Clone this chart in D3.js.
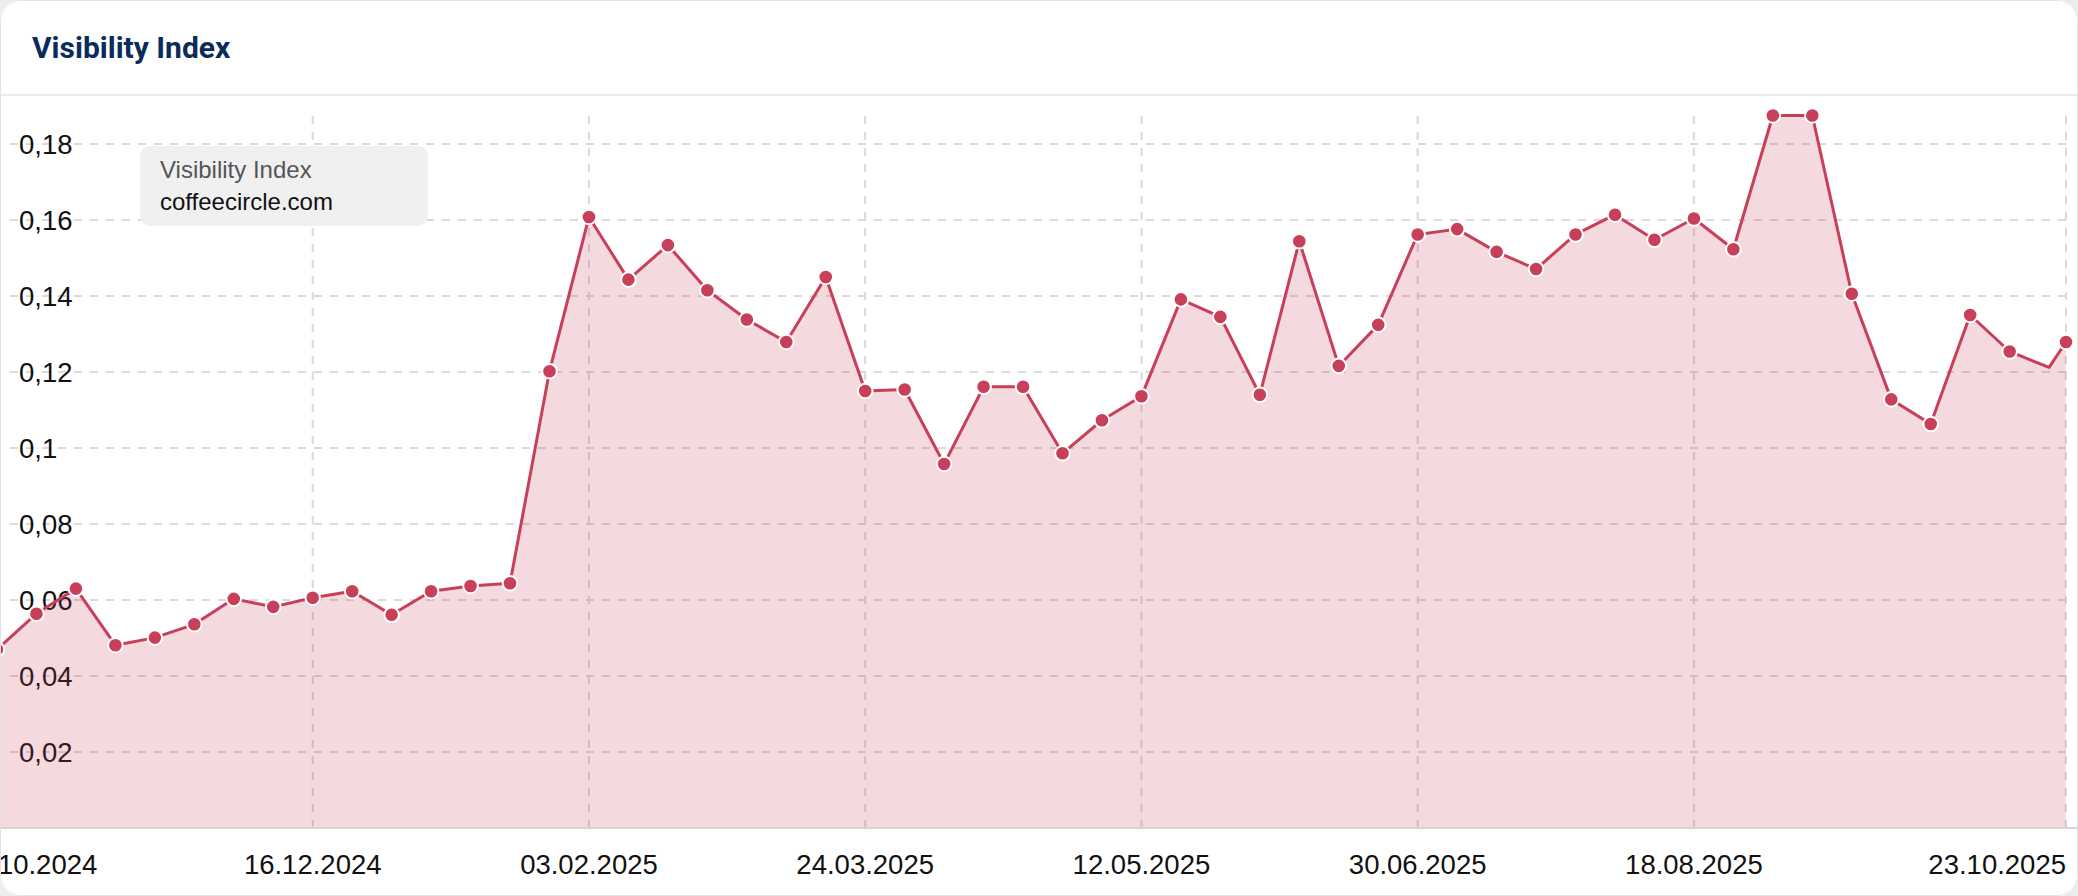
<!DOCTYPE html>
<html lang="de">
<head>
<meta charset="UTF-8">
<title>Visibility Index</title>
<script src="https://d3js.org/d3.v7.min.js"></script>
<style>
    body {
        margin: 0;
        background: #ececec;
    }
    #card {
        width: 2078px;
        height: 896px;
        border-radius: 20px;
        overflow: hidden;
        background: #fff;
    }
    svg {
        display: block;
    }
</style>
</head>
<body>
<div id="card"></div>

<script>
    // weekly visibility values
    const dates = [
        "21.10.2024", "28.10.2024", "04.11.2024", "11.11.2024", "18.11.2024", "25.11.2024",
        "02.12.2024", "09.12.2024", "16.12.2024", "23.12.2024", "30.12.2024", "06.01.2025",
        "13.01.2025", "20.01.2025", "27.01.2025", "03.02.2025", "10.02.2025", "17.02.2025",
        "24.02.2025", "03.03.2025", "10.03.2025", "17.03.2025", "24.03.2025", "31.03.2025",
        "07.04.2025", "14.04.2025", "21.04.2025", "28.04.2025", "05.05.2025", "12.05.2025",
        "19.05.2025", "26.05.2025", "02.06.2025", "09.06.2025", "16.06.2025", "23.06.2025",
        "30.06.2025", "07.07.2025", "14.07.2025", "21.07.2025", "28.07.2025", "04.08.2025",
        "11.08.2025", "18.08.2025", "25.08.2025", "01.09.2025", "08.09.2025", "15.09.2025",
        "22.09.2025", "29.09.2025", "06.10.2025", "13.10.2025", "20.10.2025", "23.10.2025"
    ];
    const values = [
        0.0470, 0.0564, 0.0630, 0.0481, 0.0501, 0.0536,
        0.0603, 0.0582, 0.0606, 0.0623, 0.0561, 0.0623,
        0.0637, 0.0644, 0.1202, 0.1608, 0.1443, 0.1534,
        0.1415, 0.1338, 0.1279, 0.1450, 0.1150, 0.1154,
        0.0958, 0.1161, 0.1161, 0.0986, 0.1073, 0.1136,
        0.1391, 0.1345, 0.1140, 0.1544, 0.1216, 0.1324,
        0.1562, 0.1576, 0.1516, 0.1471, 0.1562, 0.1614,
        0.1548, 0.1604, 0.1523, 0.1875, 0.1875, 0.1406,
        0.1128, 0.1063, 0.1350, 0.1254, 0.1212, 0.1279
    ];
    const hiddenMarkers = ["20.10.2025"];
    const xTickLabels = ["28.10.2024", "16.12.2024", "03.02.2025", "24.03.2025",
                         "12.05.2025", "30.06.2025", "18.08.2025", "23.10.2025"];
    const yTicks = [0.02, 0.04, 0.06, 0.08, 0.1, 0.12, 0.14, 0.16, 0.18];

    const title = "Visibility Index";
    const legendTitle = "Visibility Index";
    const legendDomain = "coffeecircle.com";

    const width = 2078, height = 896;
    const lineColor = "#c73f58";
    const labelFont = "'Liberation Sans', Arial, Helvetica, sans-serif";

    const parseDate = d3.timeParse("%d.%m.%Y");
    const data = dates.map((d, i) => ({ label: d, date: parseDate(d), value: values[i] }));

    const de = d3.formatLocale({ decimal: ",", thousands: ".", grouping: [3], currency: ["", " €"] });
    const fmt = de.format(".2~f");

    const x = d3.scaleTime()
        .domain(d3.extent(data, d => d.date))
        .range([-3, 2066]);

    const y = d3.scaleLinear()
        .domain([0, 0.18])
        .range([828, 144]);

    const svg = d3.select("#card").append("svg")
        .attr("width", width)
        .attr("height", height);

    // header
    svg.append("text")
        .attr("x", 32)
        .attr("y", 58)
        .attr("font-family", "Roboto, sans-serif")
        .attr("font-weight", 700)
        .attr("font-size", 30)
        .attr("fill", "#0b2b5b")
        .text(title);

    svg.append("line")
        .attr("x1", 0).attr("x2", width)
        .attr("y1", 95).attr("y2", 95)
        .attr("stroke", "#ebebeb")
        .attr("stroke-width", 2);

    // grid
    const grid = svg.append("g")
        .attr("stroke", "#d9d9d9")
        .attr("stroke-width", 2)
        .attr("stroke-dasharray", "8,8");

    grid.selectAll("line.h")
        .data(yTicks)
        .enter().append("line")
        .attr("class", "h")
        .attr("x1", 10)
        .attr("x2", 2066)
        .attr("y1", d => y(d))
        .attr("y2", d => y(d));

    // no grid line for the first (clipped) date label
    grid.selectAll("line.v")
        .data(xTickLabels.slice(1))
        .enter().append("line")
        .attr("class", "v")
        .attr("x1", d => x(parseDate(d)))
        .attr("x2", d => x(parseDate(d)))
        .attr("y1", 116)
        .attr("y2", y(0));

    // y labels sit inside the plot, under the area
    svg.append("g")
        .selectAll("text")
        .data(yTicks)
        .enter().append("text")
        .attr("x", 19)
        .attr("y", d => y(d))
        .attr("dy", "0.35em")
        .attr("font-family", labelFont)
        .attr("font-size", 27.5)
        .attr("fill", "#111")
        .text(d => fmt(d));

    // area + line
    const area = d3.area()
        .x(d => x(d.date))
        .y0(y(0))
        .y1(d => y(d.value));

    const line = d3.line()
        .x(d => x(d.date))
        .y(d => y(d.value));

    svg.append("path")
        .datum(data)
        .attr("d", area)
        .attr("fill", lineColor)
        .attr("fill-opacity", 0.2);

    svg.append("line")
        .attr("x1", 0).attr("x2", width)
        .attr("y1", y(0)).attr("y2", y(0))
        .attr("stroke", "#d6d6d6")
        .attr("stroke-width", 2);

    svg.append("path")
        .datum(data)
        .attr("d", line)
        .attr("fill", "none")
        .attr("stroke", lineColor)
        .attr("stroke-width", 3)
        .attr("stroke-linejoin", "round");

    svg.append("g")
        .selectAll("circle")
        .data(data.filter(d => !hiddenMarkers.includes(d.label)))
        .enter().append("circle")
        .attr("cx", d => x(d.date))
        .attr("cy", d => y(d.value))
        .attr("r", 7.3)
        .attr("fill", lineColor)
        .attr("stroke", "#fff")
        .attr("stroke-width", 2);

    // x axis labels (first one is pushed off the left edge like the original)
    const lastTick = xTickLabels.length - 1;
    svg.append("g")
        .selectAll("text")
        .data(xTickLabels)
        .enter().append("text")
        .attr("x", d => x(parseDate(d)))
        .attr("dx", (d, i) => i === 0 ? -8 : 0)
        .attr("y", 864)
        .attr("dy", "0.35em")
        .attr("text-anchor", (d, i) => i === lastTick ? "end" : "middle")
        .attr("font-family", labelFont)
        .attr("font-size", 27.5)
        .attr("fill", "#111")
        .text(d => d);

    // legend box
    const legend = svg.append("g").attr("transform", "translate(140,146)");
    legend.append("rect")
        .attr("width", 288)
        .attr("height", 80)
        .attr("rx", 10)
        .attr("fill", "#f0f0f0");
    legend.append("text")
        .attr("x", 20).attr("y", 32)
        .attr("font-family", labelFont)
        .attr("font-size", 24)
        .attr("fill", "#555")
        .text(legendTitle);
    legend.append("text")
        .attr("x", 20).attr("y", 64)
        .attr("font-family", labelFont)
        .attr("font-size", 24)
        .attr("fill", "#111")
        .text(legendDomain);

    // card border
    svg.append("rect")
        .attr("x", 0.5).attr("y", 0.5)
        .attr("width", width - 1).attr("height", height - 1)
        .attr("rx", 20)
        .attr("fill", "none")
        .attr("stroke", "#e2e2e2");
</script>
</body>
</html>
